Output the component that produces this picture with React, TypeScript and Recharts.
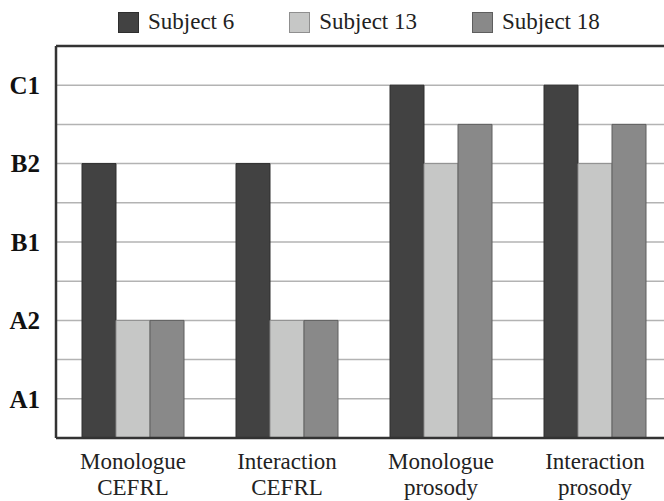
import React from "react"
import {
  BarChart,
  Bar,
  XAxis,
  YAxis,
  CartesianGrid,
  Legend,
  ReferenceLine,
} from "recharts"

const categories = [
  ["Monologue", "CEFRL"],
  ["Interaction", "CEFRL"],
  ["Monologue", "prosody"],
  ["Interaction", "prosody"],
]

// levels: A1=1, A2=2, B1=3, B2=4, C1=5
const subject6 = [4, 4, 5, 5]
const subject13 = [2, 2, 4, 4]
const subject18 = [2, 2, 4.5, 4.5]

const levelTicks = [0.5, 1, 1.5, 2, 2.5, 3, 3.5, 4, 4.5, 5, 5.5]
const levelLabels: Record<number, string> = { 1: "A1", 2: "A2", 3: "B1", 4: "B2", 5: "C1" }

const series = [
  { key: "s6", name: "Subject 6", values: subject6, fill: "#424242", stroke: "#2e2e2e" },
  { key: "s13", name: "Subject 13", values: subject13, fill: "#c6c7c6", stroke: "#8f8f8f" },
  { key: "s18", name: "Subject 18", values: subject18, fill: "#898989", stroke: "#5e5e5e" },
]

const data = categories.map((c, i) => {
  const row: Record<string, any> = { cat: c.join("|") }
  series.forEach((s) => (row[s.key] = s.values[i]))
  return row
})

const FONT = "'Liberation Serif', 'Times New Roman', serif"

const XTick = (props: any) => {
  const { x, y, payload } = props
  const [l1, l2] = String(payload.value).split("|")
  return (
    <text x={x} y={y} textAnchor="middle" fill="#222" fontFamily={FONT} fontSize={23}>
      <tspan x={x} dy={23}>{l1}</tspan>
      <tspan x={x} dy={26}>{l2}</tspan>
    </text>
  )
}

const LegendContent = () => (
  <div style={{ display: "flex", alignItems: "center", height: 30 }}>
    {series.map((s, i) => (
      <div
        key={s.key}
        style={{ display: "flex", alignItems: "center", marginLeft: i === 0 ? 0 : 55 }}
      >
        <div
          style={{
            width: 19,
            height: 19,
            background: s.fill,
            border: `1px solid ${s.stroke}`,
            marginRight: 9,
          }}
        />
        <span style={{ fontFamily: FONT, fontSize: 23, color: "#222", lineHeight: "30px" }}>
          {s.name}
        </span>
      </div>
    ))}
  </div>
)

export default function App() {
  return (
    <div
      style={{
        position: "absolute",
        left: 0,
        top: 0,
        width: 664,
        height: 501,
        overflow: "hidden",
        background: "#fff",
      }}
    >
      <BarChart
        width={672}
        height={501}
        data={data}
        margin={{ top: 46, right: 0, left: 0, bottom: 0 }}
        barGap={0}
      >
        <CartesianGrid vertical={false} stroke="#b3b3b3" strokeWidth={1.5} />
        <XAxis
          dataKey="cat"
          height={63}
          tickLine={false}
          axisLine={{ stroke: "#333", strokeWidth: 2.5 }}
          tick={<XTick />}
          interval={0}
        />
        <YAxis
          width={56}
          domain={[0.5, 5.5]}
          ticks={levelTicks}
          interval={0}
          tickLine={false}
          tickMargin={10}
          axisLine={{ stroke: "#333", strokeWidth: 2.5 }}
          tickFormatter={(v: number) => levelLabels[v] ?? ""}
          tick={{ fill: "#111", fontFamily: FONT, fontSize: 25, fontWeight: "bold" }}
        />
        <ReferenceLine y={5.5} stroke="#333" strokeWidth={2.5} />
        <Legend
          layout="horizontal"
          verticalAlign="middle"
          align="center"
          content={<LegendContent />}
          wrapperStyle={{ top: 7, left: 118, width: "auto" }}
        />
        {series.map((s) => (
          <Bar
            key={s.key}
            dataKey={s.key}
            name={s.name}
            fill={s.fill}
            stroke={s.stroke}
            strokeWidth={1}
            barSize={34}
            isAnimationActive={false}
          />
        ))}
      </BarChart>
    </div>
  )
}
